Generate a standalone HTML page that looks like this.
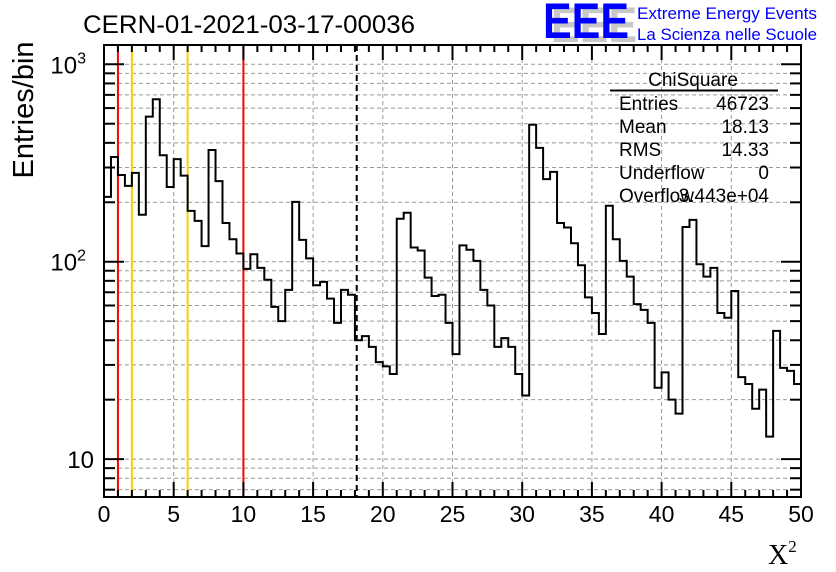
<!DOCTYPE html>
<html><head><meta charset="utf-8"><style>
html,body{margin:0;padding:0;background:#fff;}
svg{display:block;font-family:"Liberation Sans",sans-serif;}
</style></head><body>
<svg id="c" width="836" height="572" viewBox="0 0 836 572">
<rect width="836" height="572" fill="#fff"/>
<g id="grid"></g>
<g id="lines"></g>
<path id="hist" fill="none" stroke="#000" stroke-width="2"/>
<g id="axes"></g>
<text x="83" y="33" font-size="25" textLength="332" lengthAdjust="spacingAndGlyphs">CERN-01-2021-03-17-00036</text>
<g>
<text x="551" y="42" font-size="50" font-weight="bold" fill="#c8c8c8" textLength="86" lengthAdjust="spacingAndGlyphs">EEE</text>
<text x="543" y="38" font-size="50" font-weight="bold" fill="#0000ff" textLength="86" lengthAdjust="spacingAndGlyphs">EEE</text>
<text x="637" y="19" font-size="17" fill="#0000ff" textLength="180" lengthAdjust="spacingAndGlyphs">Extreme Energy Events</text>
<text x="637" y="40" font-size="17" fill="#0000ff" textLength="180" lengthAdjust="spacingAndGlyphs">La Scienza nelle Scuole</text>
</g>
<g font-size="19">
<text x="693" y="86" text-anchor="middle">ChiSquare</text>
<line x1="610" y1="90.5" x2="778" y2="90.5" stroke="#000" stroke-width="2"/>
<text x="619" y="110">Entries</text><text x="769" y="110" text-anchor="end">46723</text>
<text x="619" y="133">Mean</text><text x="769" y="133" text-anchor="end">18.13</text>
<text x="619" y="156">RMS</text><text x="769" y="156" text-anchor="end">14.33</text>
<text x="619" y="179">Underflow</text><text x="769" y="179" text-anchor="end">0</text>
<text x="619" y="202">Overflow</text><text x="769" y="202" text-anchor="end">3.443e+04</text>
</g>
<text transform="translate(33,110) rotate(-90)" font-size="29" text-anchor="middle">Entries/bin</text>
<text x="768" y="564" font-size="28" font-family="Liberation Serif,serif">X<tspan font-size="17" dy="-12">2</tspan></text>
</svg>
<script>
const binValues=[213,339,275,242,282,173,543,665,346,239,331,273,181,161,120,368,256,157,130,110,92,109,93,81,59,50,72,201,129,104,76,79,65,49,72,68,40,42,37,31,29.5,27,165,177,118,114,83,67,68,49,34,121,115,101,72,60,37,41,37,27,21,494,377,262,285,157,149,124,96,66,55,43,192,130,101,84,61,57,49,23,27.5,20,17,150,163,97,84,93,55,52,71,26,24,18,22.5,13,44.6,29,28,24];
const xRange=[0,50];
const xTickLabels=[0,5,10,15,20,25,30,35,40,45,50];
const yTickLabels=["10","10²","10³"];
const cutRed=[1,10];
const cutOrange=[2,6];
const meanValue=18.13;
const L=104,R=801,T=45,B=497;
const Y3=64.3,DEC=197.4;
const ymin=Math.pow(10,3-(B-Y3)/DEC), ymax=Math.pow(10,3+(Y3-T)/DEC);
const sx=v=>L+(v-xRange[0])/(xRange[1]-xRange[0])*(R-L);
const sy=v=>Y3-(Math.log10(v)-3)*DEC;
const NS="http://www.w3.org/2000/svg";
function mk(p,t,a){const e=document.createElementNS(NS,t);for(const k in a)e.setAttribute(k,a[k]);p.appendChild(e);return e;}
const grid=document.getElementById('grid'),axes=document.getElementById('axes'),lines=document.getElementById('lines');
for(const t of xTickLabels){if(t<=xRange[0]||t>=xRange[1])continue;const x=sx(t);
const g=mk(grid,'line',{x1:x,x2:x,y1:T,y2:B,stroke:'#999','stroke-width':1,'stroke-dasharray':'4,3'});

}
for(let d=0;d<4;d++)for(let m=1;m<10;m++){const v=m*Math.pow(10,d);if(v<ymin||v>ymax)continue;const y=sy(v);
const g=mk(grid,'line',{x1:L,x2:R,y1:y,y2:y,stroke:'#999','stroke-width':1,'stroke-dasharray':'4,3'});


const tl=(m===1)?20:11;
mk(axes,'line',{x1:L,x2:L+tl,y1:y,y2:y,stroke:'#000','stroke-width':2});
mk(axes,'line',{x1:R,x2:R-tl,y1:y,y2:y,stroke:'#000','stroke-width':2});}
const bw=(xRange[1]-xRange[0])/binValues.length;
let d='M'+sx(0)+','+B;
binValues.forEach((v,i)=>{const y=sy(Math.max(v,ymin));d+=' L'+sx(i*bw)+','+y+' L'+sx((i+1)*bw)+','+y;});
d+=' L'+sx(xRange[1])+','+B;
document.getElementById('hist').setAttribute('d',d);
for(const c of cutRed){const l=mk(lines,'line',{x1:sx(c),x2:sx(c),y1:T,y2:B,stroke:'#ff0000','stroke-width':2});

}
for(const c of cutOrange){const l=mk(lines,'line',{x1:sx(c),x2:sx(c),y1:T,y2:B,stroke:'#ffcc00','stroke-width':2});

}
const ml=mk(lines,'line',{x1:sx(meanValue),x2:sx(meanValue),y1:T,y2:B,stroke:'#000','stroke-width':2,'stroke-dasharray':'6,4'});


mk(axes,'rect',{x:L,y:T,width:R-L,height:B-T,fill:'none',stroke:'#000','stroke-width':2});
for(let t=xRange[0];t<=xRange[1];t+=1){const x=sx(t);const tl=(t%5===0)?15:7;
mk(axes,'line',{x1:x,x2:x,y1:B,y2:B-tl,stroke:'#000','stroke-width':2});
mk(axes,'line',{x1:x,x2:x,y1:T,y2:T+tl,stroke:'#000','stroke-width':2});}
for(const t of xTickLabels){const tx=mk(axes,'text',{x:sx(t),y:522,'font-size':23,'text-anchor':'middle'});tx.textContent=t;

}
yTickLabels.forEach((s,i)=>{const y=sy(Math.pow(10,i+1));const tx=mk(axes,'text',{x:i===0?94:86,y:y+9,'font-size':24,'text-anchor':'end'});
if(i===0){tx.textContent='10';}else{tx.textContent='10';const sp=mk(tx,'tspan',{'font-size':16,dy:-10});sp.textContent=String(i+1);}

});
</script>
</body></html>
